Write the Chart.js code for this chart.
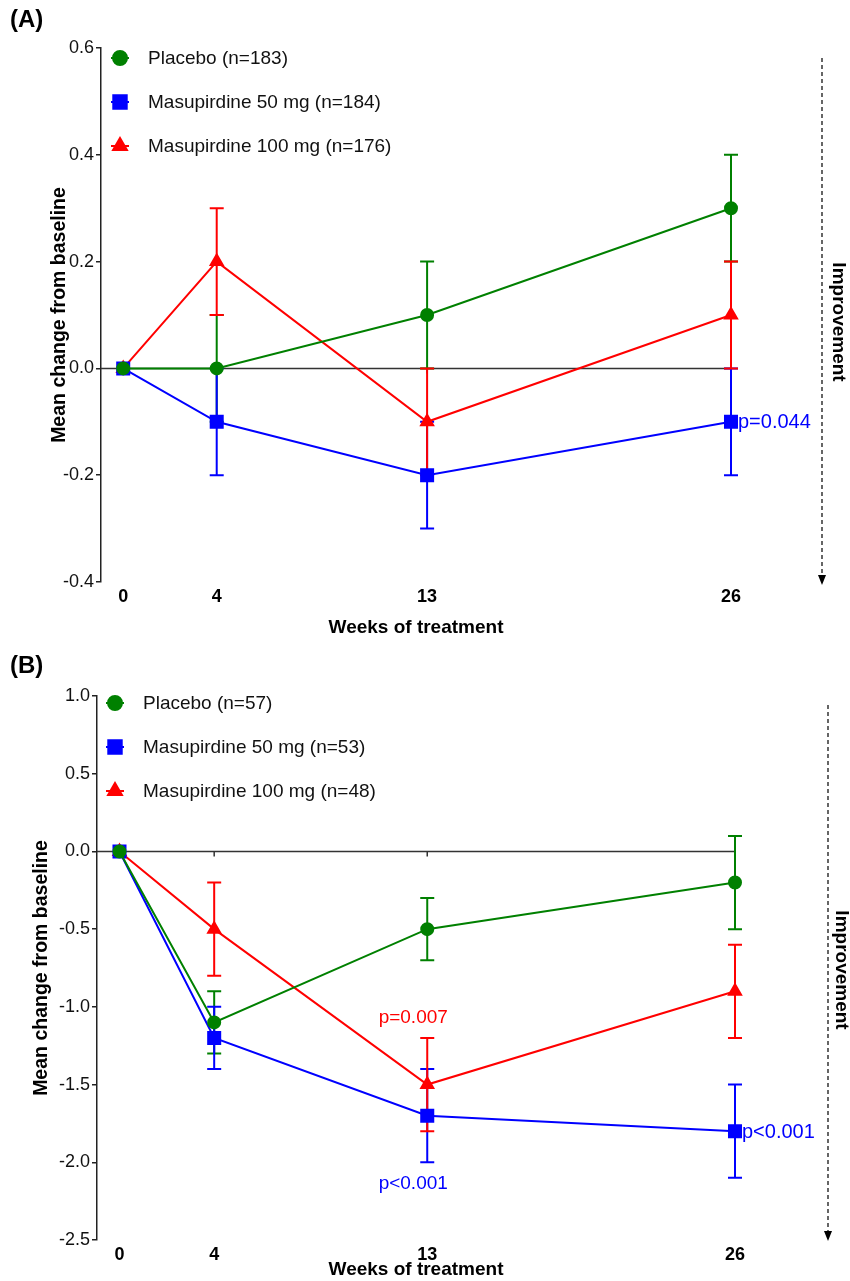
<!DOCTYPE html>
<html>
<head>
<meta charset="utf-8">
<script src="https://cdn.jsdelivr.net/npm/chart.js@4.4.1/dist/chart.umd.min.js"></script>
<style>
  body { margin: 0; background: #fff; }
  canvas { display: block; }
</style>
</head>
<body>
<canvas id="chartA" width="850" height="645"></canvas>
<canvas id="chartB" width="850" height="636"></canvas>
<script>
// weeks of treatment (x values) and the series names
const weeks = [0, 4, 13, 26]
const seriesNames = ['Placebo', 'Masupirdine 50 mg', 'Masupirdine 100 mg']
const colors = ['#008000', '#0000ff', '#ff0000']
const markers = ['circle', 'rect', 'triangle']

// panel A
const nA = [183, 184, 176]
const placeboA = [0, 0, 0.1, 0.3]
const placeboErrA = [0, 0.1, 0.1, 0.1]
const mg50A = [0, -0.1, -0.2, -0.1]
const mg50ErrA = [0, 0.1, 0.1, 0.1]
const mg100A = [0, 0.2, -0.1, 0.1]
const mg100ErrA = [0, 0.1, 0.1, 0.1]
const yTicksA = [-0.4, -0.2, 0.0, 0.2, 0.4, 0.6]
const pLabelsA = [{series: 1, week: 26, text: 'p=0.044', side: 'right'}]

// panel B
const nB = [57, 53, 48]
const placeboB = [0, -1.1, -0.5, -0.2]
const placeboErrB = [0, 0.2, 0.2, 0.3]
const mg50B = [0, -1.2, -1.7, -1.8]
const mg50ErrB = [0, 0.2, 0.3, 0.3]
const mg100B = [0, -0.5, -1.5, -0.9]
const mg100ErrB = [0, 0.3, 0.3, 0.3]
const yTicksB = [-2.5, -2.0, -1.5, -1.0, -0.5, 0.0, 0.5, 1.0]
const pLabelsB = [
  {series: 2, week: 13, text: 'p=0.007', side: 'above'},
  {series: 1, week: 13, text: 'p<0.001', side: 'below'},
  {series: 1, week: 26, text: 'p<0.001', side: 'right'}
]

const FONT = "'Liberation Sans', Arial, sans-serif"
const NARROW = "'Liberation Sans Narrow', 'Arial Narrow', 'Liberation Sans', Arial, sans-serif"

function makeDatasets(means, errs, ns) {
  return means.map((m, i) => ({
    label: seriesNames[i] + ' (n=' + ns[i] + ')',
    data: weeks.map((w, j) => ({x: w, y: m[j]})),
    errors: errs[i],
    borderColor: colors[i],
    backgroundColor: colors[i],
    pointBackgroundColor: colors[i],
    pointBorderColor: colors[i],
    pointStyle: markers[i],
    pointRadius: markers[i] === 'rect' ? 8.5 : (markers[i] === 'triangle' ? 7 : 6),
    borderWidth: 2,
    tension: 0,
    clip: false
  }))
}

const extras = {
  id: 'extras',
  beforeDatasetsDraw(chart) {
    const {ctx, chartArea, scales: {x, y}} = chart
    ctx.save()
    // zero line with week ticks
    const y0 = y.getPixelForValue(0)
    ctx.strokeStyle = '#333'
    ctx.lineWidth = 1.5
    ctx.beginPath()
    ctx.moveTo(chartArea.left, y0)
    ctx.lineTo(x.getPixelForValue(weeks[weeks.length - 1]), y0)
    weeks.forEach(w => {
      const px = x.getPixelForValue(w)
      ctx.moveTo(px, y0)
      ctx.lineTo(px, y0 + 5)
    })
    ctx.stroke()
    // error bars
    chart.data.datasets.forEach(ds => {
      ctx.strokeStyle = ds.borderColor
      ctx.lineWidth = 2
      ds.data.forEach((p, j) => {
        const e = ds.errors[j]
        if (!e) return
        const px = x.getPixelForValue(p.x)
        const top = y.getPixelForValue(p.y + e)
        const bot = y.getPixelForValue(p.y - e)
        ctx.beginPath()
        ctx.moveTo(px, top); ctx.lineTo(px, bot)
        ctx.moveTo(px - 7, top); ctx.lineTo(px + 7, top)
        ctx.moveTo(px - 7, bot); ctx.lineTo(px + 7, bot)
        ctx.stroke()
      })
    })
    ctx.restore()
  },
  afterDraw(chart, args, opts) {
    const {ctx, scales: {x, y}} = chart
    const dsets = chart.data.datasets
    ctx.save()

    // panel tag
    ctx.fillStyle = '#000'
    ctx.font = 'bold 24px ' + FONT
    ctx.textAlign = 'left'
    ctx.textBaseline = 'top'
    ctx.fillText(opts.tag, 10, opts.tagY)

    // legend
    ctx.font = '19px ' + FONT
    ctx.textBaseline = 'middle'
    dsets.forEach((ds, i) => {
      const ly = opts.legendY + i * 44
      ctx.strokeStyle = ds.borderColor
      ctx.fillStyle = ds.borderColor
      ctx.lineWidth = 2
      ctx.beginPath()
      ctx.moveTo(opts.legendX - 9, ly)
      ctx.lineTo(opts.legendX + 9, ly)
      ctx.stroke()
      Chart.helpers.drawPoint(ctx, {pointStyle: ds.pointStyle, radius: ds.pointRadius + 1, rotation: 0, borderWidth: 1}, opts.legendX, ly)
      ctx.fillStyle = '#111'
      ctx.fillText(ds.label, opts.legendX + 28, ly + 1)
    })

    // p-value labels
    opts.pLabels.forEach(p => {
      const ds = dsets[p.series]
      const j = weeks.indexOf(p.week)
      const val = ds.data[j].y
      const err = ds.errors[j]
      const px = x.getPixelForValue(p.week)
      ctx.fillStyle = ds.borderColor
      if (p.side === 'right') {
        ctx.font = '20px ' + FONT
        ctx.textAlign = 'left'
        ctx.fillText(p.text, px + 7, y.getPixelForValue(val) + 1)
      } else if (p.side === 'above') {
        ctx.font = '19px ' + FONT
        ctx.textAlign = 'center'
        ctx.fillText(p.text, px - 14, y.getPixelForValue(val + err) - 20)
      } else {
        ctx.font = '19px ' + FONT
        ctx.textAlign = 'center'
        ctx.fillText(p.text, px - 14, y.getPixelForValue(val - err) + 21)
      }
    })

    // improvement arrow
    ctx.strokeStyle = '#000'
    ctx.lineWidth = 1.2
    ctx.setLineDash([4, 3])
    ctx.beginPath()
    ctx.moveTo(opts.arrowX, opts.arrowTop)
    ctx.lineTo(opts.arrowX, opts.arrowBottom - 8)
    ctx.stroke()
    ctx.setLineDash([])
    ctx.fillStyle = '#000'
    ctx.beginPath()
    ctx.moveTo(opts.arrowX - 4, opts.arrowBottom - 10)
    ctx.lineTo(opts.arrowX + 4, opts.arrowBottom - 10)
    ctx.lineTo(opts.arrowX, opts.arrowBottom)
    ctx.closePath()
    ctx.fill()

    ctx.translate(opts.textX, opts.textY)
    ctx.rotate(Math.PI / 2)
    ctx.font = 'bold 19px ' + FONT
    ctx.textAlign = 'center'
    ctx.textBaseline = 'middle'
    ctx.fillText('Improvement', 0, 0)
    ctx.restore()
  }
}

function makeChart(id, datasets, yTicks, cfg) {
  return new Chart(document.getElementById(id), {
    type: 'line',
    data: {datasets},
    plugins: [extras],
    options: {
      responsive: false,
      animation: false,
      layout: {padding: {left: 0, top: cfg.top, right: cfg.right, bottom: 0}},
      plugins: {
        legend: {display: false},
        tooltip: {enabled: false},
        extras: cfg.extras
      },
      scales: {
        x: {
          type: 'linear',
          min: -0.95,
          max: 26,
          afterBuildTicks: s => { s.ticks = weeks.map(v => ({value: v})) },
          afterFit: s => { s.height = cfg.xHeight },
          border: {display: false},
          grid: {display: false, drawTicks: false},
          ticks: {
            color: '#000',
            padding: cfg.xTickPad,
            font: {family: NARROW, size: 18, weight: 'bold'},
            maxRotation: 0,
            autoSkip: false
          },
          title: {
            display: true,
            text: 'Weeks of treatment',
            color: '#000',
            font: {family: NARROW, size: 19, weight: 'bold'},
            padding: {top: 0, bottom: cfg.xTitlePad}
          }
        },
        y: {
          min: yTicks[0],
          max: yTicks[yTicks.length - 1],
          afterBuildTicks: s => { s.ticks = yTicks.map(v => ({value: v})) },
          afterFit: s => { s.width = cfg.yWidth },
          border: {display: true, color: '#222', width: 1.5},
          grid: {drawOnChartArea: false, drawTicks: true, tickLength: 5, color: '#222', lineWidth: 1.5},
          ticks: {
            color: '#111',
            padding: 2,
            font: {family: FONT, size: 18},
            callback: v => (Math.abs(v) < 1e-9 ? 0 : v).toFixed(1)
          },
          title: {
            display: true,
            text: 'Mean change from baseline',
            color: '#000',
            font: {family: FONT, size: 19.5, weight: 'bold'},
            padding: {top: cfg.yTitlePad, bottom: 0}
          }
        }
      }
    }
  })
}

makeChart('chartA',
  makeDatasets([placeboA, mg50A, mg100A], [placeboErrA, mg50ErrA, mg100ErrA], nA),
  yTicksA,
  {
    top: 48, right: 119, xHeight: 63, yWidth: 101, xTickPad: 4, xTitlePad: 6, yTitlePad: 48,
    extras: {tag: '(A)', tagY: 8, legendX: 120, legendY: 58, pLabels: pLabelsA,
      arrowX: 822, arrowTop: 58, arrowBottom: 585, textX: 838, textY: 322}
  })

makeChart('chartB',
  makeDatasets([placeboB, mg50B, mg100B], [placeboErrB, mg50ErrB, mg100ErrB], nB),
  yTicksB,
  {
    top: 51, right: 115, xHeight: 41, yWidth: 97, xTickPad: 4, xTitlePad: 0, yTitlePad: 30,
    extras: {tag: '(B)', tagY: 9, legendX: 115, legendY: 58, pLabels: pLabelsB,
      arrowX: 828, arrowTop: 60, arrowBottom: 596, textX: 841, textY: 325}
  })
</script>
</body>
</html>
